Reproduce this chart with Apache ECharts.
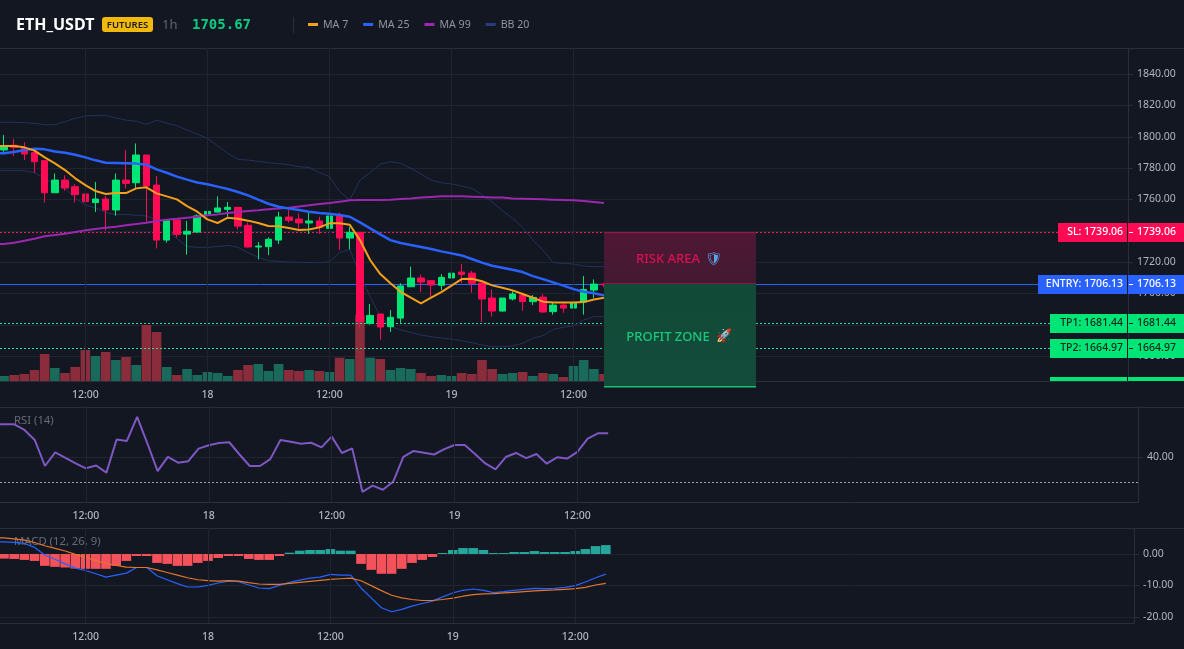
<!DOCTYPE html>
<html>
<head>
<meta charset="utf-8">
<style>
  html, body { margin: 0; padding: 0; background: #131722; }
  #chart { width: 1184px; height: 649px; }
</style>
<script src="https://cdn.jsdelivr.net/npm/echarts@6/dist/echarts.min.js"></script>
</head>
<body>
<div id="chart"></div>
<script>
// ETH_USDT hourly candles, one entry per hour
const opens = [1791.6,1794.6,1792.6,1789.9,1784.8,1764.3,1772.4,1768.2,1763.5,1758.0,1760.3,1753.3,1772.4,1770.7,1788.4,1769.2,1734.1,1746.9,1737.9,1739.2,1749.9,1752.0,1753.7,1755.0,1743.5,1729.7,1729.9,1734.1,1748.8,1747.5,1745.0,1746.3,1741.6,1749.5,1735.4,1739.0,1680.9,1686.9,1678.8,1684.3,1704.3,1709.9,1708.2,1705.2,1709.9,1713.7,1713.0,1706.7,1697.1,1688.8,1696.5,1699.0,1694.8,1697.7,1688.4,1692.6,1690.7,1694.5,1702.2,1706.0];
const closes = [1794.1,1793.3,1789.0,1784.1,1764.3,1772.4,1767.3,1763.1,1758.6,1760.3,1753.3,1772.4,1770.3,1788.4,1768.6,1734.1,1746.5,1737.7,1739.7,1749.5,1752.4,1754.6,1755.0,1743.0,1729.7,1730.3,1734.6,1748.8,1746.7,1745.0,1746.3,1742.2,1749.5,1735.4,1739.0,1682.0,1686.0,1678.6,1684.8,1704.8,1709.9,1707.3,1705.4,1710.3,1713.0,1712.2,1706.5,1696.5,1688.8,1697.1,1699.7,1694.8,1697.5,1688.2,1692.6,1690.7,1694.1,1702.6,1706.0,1705.67];
const lows = [1790.5,1787.8,1785.2,1777.1,1758.0,1764.3,1765.6,1758.0,1741.6,1752.0,1740.1,1749.7,1767.1,1767.1,1745.8,1728.8,1732.4,1735.8,1724.8,1738.8,1749.0,1751.6,1749.0,1740.9,1729.5,1721.8,1724.6,1731.6,1745.2,1740.9,1738.0,1738.0,1740.5,1727.7,1728.2,1678.4,1680.1,1670.5,1675.4,1681.3,1704.3,1700.9,1697.9,1702.2,1707.3,1706.5,1700.5,1681.8,1685.2,1688.4,1695.6,1689.0,1692.6,1687.7,1686.5,1687.7,1677.5,1686.5,1697.1,1704.0];
const highs = [1801.2,1798.6,1796.5,1791.6,1784.8,1776.7,1775.4,1769.7,1765.4,1771.2,1762.2,1776.7,1791.6,1795.8,1788.4,1775.0,1747.3,1747.3,1746.3,1750.5,1759.0,1762.0,1758.4,1755.0,1745.2,1732.9,1735.8,1752.2,1753.3,1751.2,1751.6,1749.0,1751.6,1751.6,1742.6,1739.0,1693.3,1686.9,1689.4,1706.5,1717.1,1712.0,1708.6,1712.4,1715.6,1718.8,1714.5,1706.7,1702.6,1697.1,1701.4,1700.1,1699.0,1699.7,1694.1,1693.7,1696.2,1711.1,1709.0,1706.6];
const volumes = [15,18,21,33,81,39,24,42,93,75,87,63,72,48,168,147,42,18,36,18,27,24,15,33,48,51,30,51,33,30,33,30,27,70,66,198,70,66,33,39,36,24,15,18,15,24,21,63,36,21,24,27,15,24,21,12,45,63,36,21];

// Moving averages and Bollinger bands
const ma7 = [1794.1,1794.1,1793.3,1791.2,1786.9,1783.1,1778.8,1773.5,1769.2,1765.4,1763.5,1764.1,1764.1,1767.1,1767.8,1763.9,1762.0,1760.1,1755.8,1752.2,1747.3,1745.0,1748.4,1747.7,1746.5,1745.0,1743.1,1742.9,1741.8,1740.5,1740.9,1742.2,1744.8,1744.8,1743.9,1734.1,1721.4,1712.4,1706.5,1701.1,1697.3,1693.7,1697.3,1700.9,1705.0,1709.2,1709.4,1707.8,1705.2,1703.7,1702.0,1699.7,1697.3,1694.8,1694.3,1694.3,1694.3,1694.5,1696.2,1697.3];
const ma25 = [1789.5,1790.3,1791.6,1792.4,1792.0,1790.7,1789.9,1788.6,1786.9,1785.0,1783.5,1783.3,1783.1,1782.9,1782.2,1779.2,1777.1,1774.6,1772.7,1770.9,1769.7,1768.2,1766.7,1764.8,1762.6,1759.9,1757.3,1755.4,1754.3,1753.3,1752.2,1751.4,1750.9,1750.1,1749.0,1745.4,1741.6,1737.7,1734.1,1732.2,1730.9,1729.7,1728.4,1726.9,1725.6,1724.3,1722.0,1719.7,1717.7,1716.5,1715.2,1713.7,1711.1,1709.2,1707.1,1705.0,1702.8,1701.1,1700.1,1698.8];
const ma99 = [1731.6,1732.4,1733.7,1735.0,1736.5,1737.3,1738.2,1739.2,1740.3,1741.2,1742.0,1742.6,1743.5,1744.3,1745.2,1746.3,1747.1,1747.7,1748.4,1749.0,1749.9,1750.5,1751.4,1752.0,1752.6,1753.1,1753.7,1754.3,1754.8,1755.6,1756.3,1757.1,1757.7,1758.6,1759.5,1759.7,1759.7,1759.7,1759.9,1760.3,1760.7,1761.2,1761.6,1762.0,1762.0,1762.0,1761.8,1761.6,1761.2,1761.2,1760.7,1760.5,1760.3,1760.1,1759.9,1759.7,1759.5,1759.0,1758.4,1757.7];
const bbUpper = [1809.3,1809.3,1809.0,1808.6,1807.7,1807.7,1809.7,1811.8,1813.3,1813.7,1813.7,1812.0,1810.7,1809.9,1808.0,1810.6,1808.8,1807.1,1804.4,1801.8,1799.0,1794.3,1789.5,1785.6,1785.2,1784.3,1783.5,1782.9,1782.2,1780.9,1780.5,1777.3,1774.6,1765.0,1759.7,1772.4,1777.1,1782.6,1784.1,1783.1,1779.9,1776.3,1772.4,1770.7,1769.9,1768.6,1767.1,1763.1,1758.4,1752.9,1748.0,1742.2,1734.1,1727.7,1719.7,1719.2,1718.8,1717.5,1717.1,1717.1];
const bbLower = [1778.4,1778.4,1778.4,1777.1,1773.5,1769.2,1767.1,1760.7,1756.5,1754.8,1751.6,1750.5,1750.5,1749.9,1749.5,1746.9,1740.5,1735.2,1729.9,1729.5,1729.5,1729.9,1730.7,1729.5,1726.0,1723.1,1720.9,1720.5,1720.1,1719.9,1719.7,1719.7,1720.3,1726.0,1728.2,1711.8,1698.0,1685.2,1679.2,1676.7,1675.2,1673.5,1672.4,1671.6,1670.9,1669.9,1668.6,1667.1,1666.0,1666.0,1666.5,1668.2,1671.4,1673.1,1677.1,1678.4,1679.4,1683.1,1685.2,1685.2];

// Oscillators
const rsi = [52.8,52.8,50.6,46.7,36.5,41.8,39.7,37.5,35.6,36.7,33.9,46.9,46.3,55.7,45.4,34.5,40.1,37.8,38.4,43.3,44.6,45.5,45.8,41.0,36.5,36.5,39.2,46.7,46.0,45.2,45.6,43.8,48.0,41.6,43.4,26.4,28.8,27.2,30.3,40.1,42.4,41.7,41.0,43.1,44.7,44.7,41.2,37.5,35.2,40.0,41.6,39.6,41.2,37.4,39.9,39.4,42.0,47.2,49.3,49.3];
const macdLine = [3.87,3.66,3.35,2.09,-0.31,-1.68,-3.14,-4.5,-5.24,-6.28,-7.33,-6.7,-6.07,-4.29,-4.29,-6.91,-8.17,-9.42,-10.47,-10.47,-9.95,-9.21,-8.59,-8.8,-9.84,-10.79,-10.99,-9.95,-9.0,-8.27,-7.64,-7.33,-6.49,-6.7,-6.7,-10.79,-13.93,-17.07,-18.32,-17.59,-16.54,-15.71,-14.97,-13.61,-12.36,-11.52,-11.1,-11.52,-12.25,-11.94,-11.52,-11.2,-10.89,-10.99,-10.89,-10.58,-10.05,-8.9,-7.54,-6.39];
const macdSignal = [5.13,4.82,4.4,3.66,2.62,1.78,0.94,-0.1,-1.05,-2.09,-2.93,-3.66,-4.19,-4.29,-4.29,-5.03,-5.86,-6.7,-7.54,-8.17,-8.48,-8.59,-8.48,-8.59,-9.11,-9.53,-9.63,-9.63,-9.32,-9.0,-8.69,-8.38,-8.06,-7.85,-7.64,-8.48,-10.05,-11.62,-13.09,-13.93,-14.45,-14.76,-14.76,-14.45,-14.03,-13.4,-12.88,-12.67,-12.57,-12.36,-12.15,-11.94,-11.73,-11.52,-11.41,-11.2,-10.99,-10.58,-9.84,-9.32];
const macdHist = [-1.47,-1.57,-1.88,-2.2,-3.77,-4.08,-4.29,-4.61,-4.71,-4.71,-4.71,-3.77,-2.2,-0.63,-0.63,-2.83,-3.14,-3.77,-3.77,-2.83,-2.2,-1.26,-0.63,-0.63,-1.57,-1.88,-1.88,-0.63,0.42,1.05,1.26,1.26,1.57,1.05,1.05,-3.14,-5.03,-6.28,-6.28,-4.71,-2.83,-1.88,-0.94,0.31,1.26,1.88,1.88,1.26,0.31,0.31,0.63,0.63,0.94,0.63,0.63,0.63,0.94,1.57,2.51,2.83];

// Axis ticks; time labels sit on candle indices
const timeTicks = [8, 20, 32, 44, 56];
const timeLabels = ['12:00', '18', '12:00', '19', '12:00'];
const priceTicks = [1660, 1680, 1700, 1720, 1740, 1760, 1780, 1800, 1820, 1840];
const rsiTicks = [40];
const rsiFloor = 30;
const macdTicks = [0, -10, -20];

// Trade levels shown as price lines with tags on the price scale
const lastPrice = '1705.67';
const levelPrices = [1739.06, 1706.13, 1681.44, 1664.97, 1641];
const levelNames = ['SL', 'ENTRY', 'TP1', 'TP2', 'TP3'];

// Shaded zones: [from price, to price]
const riskZone = [1739.06, 1706.13];
const profitZone = [1706.13, 1640.3];
const zoneSpan = [59.0, 73.94];

const UP = '#00e676', DOWN = '#ff0a54', BG = '#131722';
const GRID_LINE = '#20242f', BORDER = '#2a2e39', AXIS_TEXT = '#b2b5be';
const FONT = '"Noto Sans", sans-serif';
const levelColors = [DOWN, '#2962ff', UP, UP, UP];
const levelLineColors = ['#e0245f', '#2962ff', '#2ddc9c', '#2ddc9c', '#2ddc9c'];
const levelTextColors = ['#ffffff', '#ffffff', '#10241d', '#10241d', '#10241d'];
const levelTagLeft = [1058, 1038, 1050, 1050, 1050];
const MAIN_TOP = 48, MAIN_BOTTOM = 381, MAIN_RIGHT = 1128, RIGHT_EDGE = 1184;

// Each line is carried back one slot so it runs off the left edge of its panel
const indexed = (values) => [[-1, values[0]]].concat(values.map((v, i) => [i, v]));
const timeFormatter = (v) => timeLabels[timeTicks.indexOf(v)] || '';

// Vertical guides at the labelled times
const timeGuides = () => ({
  silent: true, symbol: 'none', label: { show: false },
  lineStyle: { color: GRID_LINE, type: 'solid', width: 1 },
  data: timeTicks.map((t) => ({ xAxis: t }))
});

function timeAxis(gridIndex, step, lastX, margin, showLabels) {
  // Candle step in pixels decides the range: index 0 sits 4px in from the left edge
  return {
    type: 'value', gridIndex, min: -4 / step, max: (lastX - 4) / step,
    axisLine: { show: showLabels, onZero: false, lineStyle: { color: BORDER } },
    axisTick: { show: false },
    axisLabel: { show: showLabels, customValues: timeTicks, formatter: timeFormatter, color: AXIS_TEXT, margin, fontFamily: FONT, fontSize: 10.5, fontWeight: 500 },
    splitLine: { show: false }
  };
}

function valueAxis(gridIndex, min, max, ticks, margin) {
  return {
    type: 'value', gridIndex, position: 'right', min, max,
    axisLine: { show: true, onZero: false, lineStyle: { color: BORDER } },
    axisTick: { show: true, customValues: ticks, length: 5, lineStyle: { color: BORDER } },
    axisLabel: { customValues: ticks, formatter: (v) => v.toFixed(2), color: AXIS_TEXT, margin, fontFamily: FONT, fontSize: 10.5, padding: [2, 0, 0, 0] },
    splitLine: { show: true, lineStyle: { color: GRID_LINE } }
  };
}

function line(name, values, color, width, xi, yi, z) {
  return {
    name, type: 'line', data: indexed(values), xAxisIndex: xi, yAxisIndex: yi,
    showSymbol: false, silent: true, z: z || 3,
    lineStyle: { color, width }, itemStyle: { color }
  };
}

function renderZone(params, api) {
  const from = api.coord([api.value(0), api.value(2)]);
  const to = api.coord([api.value(1), api.value(3)]);
  const isRisk = params.dataIndex === 0;
  const w = to[0] - from[0], h = to[1] - from[1];
  const midX = from[0] + w / 2;
  const textY = from[1] + (isRisk ? 27 : 53);
  const children = [
    { type: 'rect', shape: { x: from[0], y: from[1], width: w, height: h },
      style: { fill: new echarts.graphic.LinearGradient(0, 0, 0, 1, isRisk
        ? [{ offset: 0, color: '#501735' }, { offset: 1, color: '#431a32' }]
        : [{ offset: 0, color: '#124a38' }, { offset: 1, color: '#134c3a' }]) } },
    { type: 'rect', shape: { x: from[0], y: isRisk ? from[1] : to[1] - 1, width: w, height: isRisk ? 1 : 1.5 },
      style: { fill: isRisk ? '#9c1c4c' : '#19c06f' } },
    { type: 'text', style: { x: midX - 12, y: textY, text: isRisk ? 'RISK AREA' : 'PROFIT ZONE', textAlign: 'center', textVerticalAlign: 'middle',
        fill: isRisk ? '#d9124f' : '#1bc77d', font: '500 13px ' + FONT } },
    { type: 'text', style: { x: midX + (isRisk ? 34 : 44), y: textY, text: isRisk ? '\u{1F6E1}' : '\u{1F680}', textAlign: 'center', textVerticalAlign: 'middle',
        fill: '#5aa6e8', font: '13px "DejaVu Sans", ' + FONT } }
  ];
  if (isRisk) {
    children.push({ type: 'rect', shape: { x: from[0], y: to[1] - 0.5, width: w, height: 1.5 }, style: { fill: '#c21a57' } });
  }
  return { type: 'group', children };
}

const levelY = (api) => Math.round(api.coord([0, api.value(0)])[1]) + 0.5;

function renderLevelLine(params, api) {
  const i = params.dataIndex;
  const y = levelY(api);
  if (y >= MAIN_BOTTOM) return null;
  return { type: 'line', shape: { x1: 0, y1: y, x2: levelTagLeft[i], y2: y },
    style: { stroke: levelLineColors[i], lineWidth: 1, lineDash: i === 1 ? null : [2, 2] } };
}

function renderLevelTag(params, api) {
  const i = params.dataIndex;
  const y = levelY(api);
  const color = levelColors[i];
  const priceText = levelPrices[i].toFixed(2);
  const left = levelTagLeft[i];
  const top = y - 9.5;
  const height = Math.min(MAIN_BOTTOM, y + 9.5) - top;
  const children = [
    { type: 'rect', shape: { x: left, y: top, width: MAIN_RIGHT - left - 1, height }, style: { fill: color } },
    { type: 'rect', shape: { x: MAIN_RIGHT, y: top, width: RIGHT_EDGE - MAIN_RIGHT, height }, style: { fill: color } }
  ];
  if (y < MAIN_BOTTOM) {
    const textStyle = { fill: levelTextColors[i], font: '500 10.5px ' + FONT, textVerticalAlign: 'middle' };
    children.push(
      { type: 'text', style: Object.assign({ x: MAIN_RIGHT - 5, y, text: levelNames[i] + ': ' + priceText, textAlign: 'right' }, textStyle) },
      { type: 'text', style: Object.assign({ x: MAIN_RIGHT + 9, y, text: priceText, textAlign: 'left' }, textStyle) },
      { type: 'rect', shape: { x: MAIN_RIGHT + 1, y: y - 0.5, width: 4, height: 1 }, style: { fill: levelTextColors[i] } }
    );
  }
  return { type: 'group', children };
}

const hdr = (x, y, text, font, fill, align) => ({
  type: 'text', x, y, silent: true,
  style: { text, font, fill, textAlign: align || 'left', textVerticalAlign: 'middle' }
});
const rule = (x1, y1, x2, y2) => ({
  type: 'line', silent: true, z: 0, shape: { x1, y1, x2, y2 }, style: { stroke: BORDER, lineWidth: 1 }
});

const option = {
  animation: false,
  backgroundColor: BG,
  textStyle: { fontFamily: FONT },
  legend: {
    left: 308, top: 19, padding: 0, itemWidth: 10, itemHeight: 3, itemGap: 15, icon: 'rect', selectedMode: false,
    textStyle: { color: '#8f95a3', fontFamily: FONT, fontSize: 10.6 },
    data: ['MA 7', 'MA 25', 'MA 99', { name: 'BB 20', itemStyle: { color: '#2a3b80' } }]
  },
  grid: [
    { left: 0, right: RIGHT_EDGE - MAIN_RIGHT, top: MAIN_TOP, height: MAIN_BOTTOM - MAIN_TOP },
    { left: 0, right: RIGHT_EDGE - MAIN_RIGHT, top: MAIN_TOP, height: MAIN_BOTTOM - MAIN_TOP },
    { left: 0, right: 46, top: 407, height: 95 },
    { left: 0, right: 50, top: 528, height: 95 }
  ],
  xAxis: [
    timeAxis(0, 10.17, MAIN_RIGHT, 9, false),
    timeAxis(1, 10.17, MAIN_RIGHT, 9, true),
    timeAxis(2, 10.24, 1138, 9, true),
    timeAxis(3, 10.2, 1134, 9, true)
  ],
  yAxis: [
    valueAxis(0, 1644.15, 1856.7, priceTicks, 9),
    { type: 'value', gridIndex: 1, position: 'right', min: 0, max: 999, axisLine: { show: false }, axisTick: { show: false }, axisLabel: { show: false }, splitLine: { show: false } },
    valueAxis(2, 22.4, 59.6, rsiTicks, 9),
    valueAxis(3, -21.9, 8.25, macdTicks, 9)
  ],
  graphic: [
    rule(0, 48.5, RIGHT_EDGE, 48.5),
    rule(0, 407.5, RIGHT_EDGE, 407.5),
    rule(0, 528.5, RIGHT_EDGE, 528.5),
    rule(293.5, 17, 293.5, 33),
    hdr(16, 25.5, 'ETH_USDT', '700 16px ' + FONT, '#ffffff'),
    { type: 'rect', silent: true, shape: { x: 102, y: 17, width: 51, height: 15, r: 3 }, style: { fill: '#f0b90b' } },
    hdr(127.5, 24.8, 'FUTURES', '600 9.5px ' + FONT, '#1b1b1b', 'center'),
    hdr(162, 25, '1h', '13px ' + FONT, '#5d6470'),
    hdr(192, 25, lastPrice, '700 14px "DejaVu Sans Mono", monospace', '#0ecb81'),
    hdr(14, 421, 'RSI (14)', '11.3px ' + FONT, '#666c78'),
    hdr(14, 542, 'MACD (12, 26, 9)', '11.3px ' + FONT, '#666c78')
  ],
  series: [
    {
      name: 'Volume', type: 'bar', xAxisIndex: 1, yAxisIndex: 1, barWidth: 9.6, silent: true, z: 1,
      markLine: timeGuides(),
      data: volumes.map((v, i) => ({ value: [i, v], itemStyle: { color: closes[i] >= opens[i] ? '#1a6a5b' : '#8a2c3b' } }))
    },
    {
      name: 'Level lines', type: 'custom', xAxisIndex: 0, yAxisIndex: 0, silent: true, z: 2, clip: false,
      renderItem: renderLevelLine, encode: { y: 0 }, data: levelPrices.map((p) => [p])
    },
    {
      name: 'Candles', type: 'candlestick', xAxisIndex: 0, yAxisIndex: 0, barWidth: 7, silent: true, z: 4,
      itemStyle: { color: UP, color0: DOWN, borderColor: UP, borderColor0: DOWN, borderWidth: 1 },
      data: opens.map((o, i) => [i, o, closes[i], lows[i], highs[i]])
    },
    line('BB 20', bbUpper, '#24315f', 1, 0, 0),
    line('BB 20', bbLower, '#24315f', 1, 0, 0),
    line('MA 99', ma99, '#9c27b0', 2, 0, 0, 5),
    line('MA 25', ma25, '#2962ff', 2.5, 0, 0, 5),
    line('MA 7', ma7, '#f5a01a', 2, 0, 0, 5),
    {
      name: 'Zones', type: 'custom', xAxisIndex: 0, yAxisIndex: 0, silent: true, z: 8, clip: false,
      renderItem: renderZone,
      encode: { x: [0, 1], y: [2, 3] },
      data: [[zoneSpan[0], zoneSpan[1], riskZone[0], riskZone[1]], [zoneSpan[0], zoneSpan[1], profitZone[0], profitZone[1]]]
    },
    {
      name: 'Level tags', type: 'custom', xAxisIndex: 0, yAxisIndex: 0, silent: true, z: 9, clip: false,
      renderItem: renderLevelTag, encode: { y: 0 }, data: levelPrices.map((p) => [p])
    },
    {
      name: 'RSI', type: 'line', data: indexed(rsi), xAxisIndex: 2, yAxisIndex: 2, showSymbol: false, silent: true, z: 3,
      lineStyle: { color: '#7e57c2', width: 2 },
      markLine: {
        silent: true, symbol: 'none', label: { show: false }, lineStyle: { color: GRID_LINE, type: 'solid', width: 1 },
        data: timeTicks.map((t) => ({ xAxis: t })).concat([{ yAxis: rsiFloor, lineStyle: { color: '#9aa0ad', type: [2, 2] } }])
      }
    },
    {
      name: 'MACD hist', type: 'bar', xAxisIndex: 3, yAxisIndex: 3, barWidth: 9.6, silent: true, z: 1,
      markLine: timeGuides(),
      data: macdHist.map((v, i) => ({ value: [i, v], itemStyle: { color: v >= 0 ? '#26a69a' : '#f4525a' } }))
    },
    line('MACD', macdLine, '#2962ff', 1.2, 3, 3),
    line('Signal', macdSignal, '#e2772a', 1.2, 3, 3)
  ]
};

echarts.init(document.getElementById('chart'), null, { renderer: 'canvas' }).setOption(option);
</script>
</body>
</html>
